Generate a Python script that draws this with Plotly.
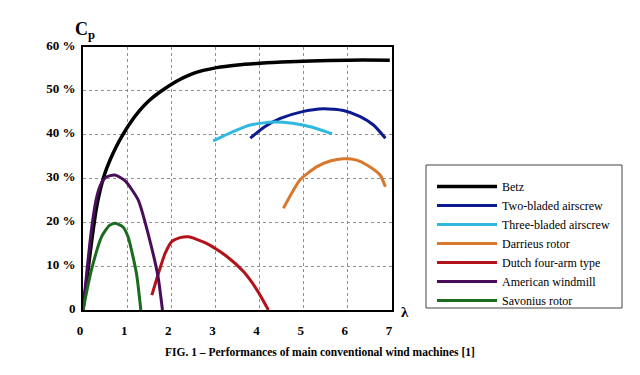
import plotly.graph_objects as go

# ---- data (tip-speed ratio lambda, power coefficient Cp in %) ----
betz_x = [0, 0.10, 0.20, 0.30, 0.40, 0.50, 0.62, 0.75, 0.88, 1.05, 1.29, 1.50, 1.75, 2.12, 2.50, 3.03, 3.5, 4.01, 4.5, 5.15, 6.0, 6.95]
betz_y = [0, 8.0, 16.0, 23.0, 27.8, 31.3, 34.4, 37.2, 39.6, 42.4, 45.6, 47.8, 49.8, 52.2, 54.0, 55.3, 55.9, 56.3, 56.6, 56.8, 57.0, 57.0]

two_x = [3.79, 4.10, 4.47, 4.95, 5.45, 5.90, 6.28, 6.58, 6.85]
two_y = [39.2, 41.7, 43.7, 45.2, 45.9, 45.5, 44.1, 42.2, 39.2]

three_x = [2.95, 3.40, 3.79, 4.31, 4.75, 5.15, 5.64]
three_y = [38.6, 40.7, 42.2, 42.9, 42.6, 41.8, 40.2]

darr_x = [4.54, 4.92, 5.30, 5.60, 5.90, 6.20, 6.43, 6.73, 6.85]
darr_y = [23.2, 29.7, 32.7, 34.0, 34.5, 34.2, 33.1, 30.8, 28.1]

dutch_x = [1.56, 1.71, 1.86, 2.01, 2.20, 2.39, 2.80, 3.26, 3.64, 3.94, 4.20]
dutch_y = [3.4, 8.4, 12.9, 15.6, 16.5, 16.7, 15.2, 12.2, 8.7, 4.6, 0]

amer_x = [0, 0.10, 0.20, 0.30, 0.40, 0.52, 0.72, 0.95, 1.25, 1.51, 1.70, 1.80]
amer_y = [0, 10.0, 19.0, 25.3, 28.6, 30.3, 30.8, 29.5, 25.1, 16.0, 7.6, 0]

savo_x = [0, 0.19, 0.42, 0.60, 0.73, 0.90, 1.02, 1.21, 1.31]
savo_y = [0, 9.1, 16.7, 19.3, 19.8, 19.0, 16.7, 8.4, 0]

series = [
    ("Betz", betz_x, betz_y, "#000000", 3.5),
    ("Two-bladed airscrew", two_x, two_y, "#0b1a8f", 3),
    ("Three-bladed airscrew", three_x, three_y, "#2fb8e0", 3),
    ("Darrieus rotor", darr_x, darr_y, "#d9782c", 3),
    ("Dutch four-arm type", dutch_x, dutch_y, "#b3121a", 3),
    ("American windmill", amer_x, amer_y, "#4a0d5c", 3),
    ("Savonius rotor", savo_x, savo_y, "#1b6b1e", 3),
]

x_ticks = [0, 1, 2, 3, 4, 5, 6, 7]
y_ticks = [0, 10, 20, 30, 40, 50, 60]
y_tick_text = ["0", "10 %", "20 %", "30 %", "40 %", "50 %", "60 %"]

SERIF = "Liberation Serif, DejaVu Serif, Times New Roman, serif"

fig = go.Figure()
for name, xs, ys, color, w in series:
    fig.add_trace(go.Scatter(
        x=xs, y=ys, mode="lines", name=name,
        line=dict(color=color, width=w, shape="spline", smoothing=0.6),
    ))

fig.update_layout(
    width=640, height=375,
    margin=dict(l=83, r=248, t=47, b=65, autoexpand=False),
    paper_bgcolor="white", plot_bgcolor="white",
    font=dict(family=SERIF, size=12, color="black"),
    showlegend=True,
    legend=dict(
        x=(432 - 83) / 309, y=(310 - 172) / 263, xanchor="left", yanchor="top",
        bgcolor="rgba(0,0,0,0)", borderwidth=0,
        font=dict(family=SERIF, size=12, color="black"),
        itemwidth=60, tracegroupgap=0,
    ),
    xaxis=dict(
        range=[0, 7], tickvals=x_ticks, ticktext=[str(v) for v in x_ticks],
        showgrid=True, gridcolor="#8f8f8f", griddash="dot", gridwidth=1,
        showline=True, linecolor="black", linewidth=2, mirror=True,
        ticks="", zeroline=False, ticklabelstandoff=7, automargin=False,
        ticklabelshift=-3,
        tickfont=dict(family=SERIF, size=13, color="black", weight="bold"),
    ),
    yaxis=dict(
        range=[0, 60], tickvals=y_ticks, ticktext=y_tick_text,
        showgrid=True, gridcolor="#8f8f8f", griddash="dot", gridwidth=1,
        showline=True, linecolor="black", linewidth=2, mirror=True,
        ticks="", zeroline=False, ticklabelstandoff=3, automargin=False,
        ticklabelshift=-2,
        tickfont=dict(family=SERIF, size=13, color="black", weight="bold"),
    ),
    shapes=[dict(
        type="rect", xref="paper", yref="paper",
        x0=(426 - 83) / 309, x1=(622 - 83) / 309,
        y0=(310 - 308) / 263, y1=(310 - 165) / 263,
        line=dict(color="#444444", width=1), fillcolor="rgba(0,0,0,0)",
    )],
    annotations=[
        dict(text="<b>C<sub>p</sub></b>", xref="paper", yref="paper",
             x=(85 - 83) / 309, y=(310 - 31) / 263, xanchor="center", yanchor="middle",
             showarrow=False, font=dict(family=SERIF, size=18, color="black")),
        dict(text="<b>λ</b>", xref="paper", yref="paper",
             x=(405 - 83) / 309, y=(310 - 312) / 263, xanchor="center", yanchor="middle",
             showarrow=False, font=dict(family=SERIF, size=15, color="black")),
        dict(text="<b>FIG. 1 – Performances of main conventional wind machines [1]</b>",
             xref="paper", yref="paper", x=(320 - 83) / 309, y=(310 - 352) / 263,
             xanchor="center", yanchor="middle", showarrow=False,
             font=dict(family=SERIF, size=11.5, color="black")),
    ],
)

fig.write_html(
    "out.html",
    config={"displayModeBar": False},
    post_script="document.body.style.margin='0';document.body.style.padding='0';",
)
